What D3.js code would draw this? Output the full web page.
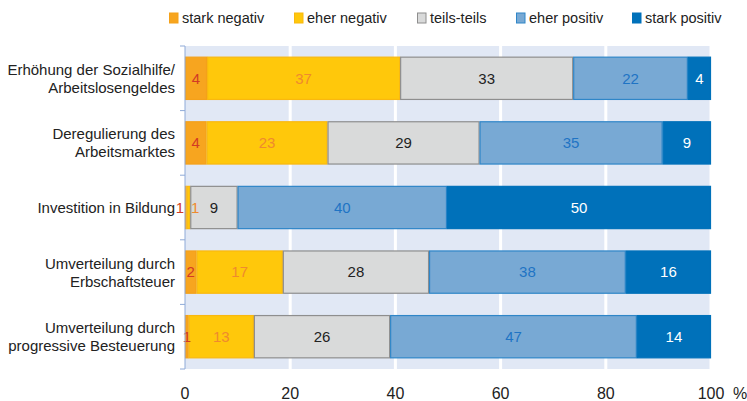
<!DOCTYPE html>
<html>
<head>
<meta charset="utf-8">
<script src="https://cdn.jsdelivr.net/npm/d3@7"></script>
<style>
  body { margin: 0; background: #fff; }
  svg { font-family: "Liberation Sans", Arial, sans-serif; }
</style>
</head>
<body>
<svg width="747" height="401"></svg>
<script>
// Categories (two-line labels) and series.
const categories = [
    ["Erhöhung der Sozialhilfe/", "Arbeitslosengeldes"],
    ["Deregulierung des", "Arbeitsmarktes"],
    ["Investition in Bildung"],
    ["Umverteilung durch", "Erbschaftsteuer"],
    ["Umverteilung durch", "progressive Besteuerung"]
];
const seriesNames = ["stark negativ", "eher negativ", "teils-teils", "eher positiv", "stark positiv"];
// bar lengths (unrounded shares, estimated from the bars)
const starkNegativ = [4.2, 4.1, 0.3, 2.2, 0.7];
const eherNegativ = [36.7, 23.0, 0.7, 16.4, 12.4];
const teilsTeils = [32.9, 28.9, 9.0, 27.8, 25.9];
const eherPositiv = [21.8, 34.8, 39.8, 37.4, 46.9];
const starkPositiv = [4.4, 9.2, 50.2, 16.2, 14.1];
// printed labels
const starkNegativLabels = [4, 4, 1, 2, 1];
const eherNegativLabels = [37, 23, 1, 17, 13];
const teilsTeilsLabels = [33, 29, 9, 28, 26];
const eherPositivLabels = [22, 35, 40, 38, 47];
const starkPositivLabels = [4, 9, 50, 16, 14];
const xTicks = [0, 20, 40, 60, 80, 100];

const fills = ["#f7a51f", "#ffc80b", "#d9dada", "#78a9d4", "#0071ba"];
const strokes = ["#f4a11a", "#f9b80f", "#8e8e8e", "#2f86c8", "#0071ba"];
const textColors = ["#d23a25", "#ef8a2e", "#222222", "#1f74c4", "#ffffff"];

const svg = d3.select("svg");
const seriesValues = [starkNegativ, eherNegativ, teilsTeils, eherPositiv, starkPositiv];
const seriesLabels = [starkNegativLabels, eherNegativLabels, teilsTeilsLabels, eherPositivLabels, starkPositivLabels];

const rows = categories.map((c, i) => {
    let cum = 0;
    return {
        label: c,
        segs: seriesValues.map((s, k) => {
            const seg = { k, v: s[i], label: seriesLabels[k][i], x0: cum, x1: cum + s[i] };
            cum += s[i];
            return seg;
        })
    };
});

const x = d3.scaleLinear().domain([0, 100]).range([185, 711]);
const y = d3.scaleBand().domain(d3.range(categories.length)).range([46, 369])
    .paddingInner(0.33).paddingOuter(0.165);

// Background bands between white gridlines.
svg.append("g").selectAll("rect")
    .data(d3.pairs(xTicks))
    .join("rect")
    .attr("x", d => x(d[0]) + (d[0] === 0 ? 0 : 1.5))
    .attr("width", d => x(d[1]) - x(d[0]) - (d[0] === 0 ? 1.5 : 3) + (d[1] === 100 ? 0 : 0))
    .attr("y", 46)
    .attr("height", 323)
    .attr("fill", "#e1e8f5");

// Bars.
const rowG = svg.append("g").selectAll("g")
    .data(rows)
    .join("g")
    .attr("transform", (d, i) => `translate(0,${y(i)})`);

rowG.selectAll("rect")
    .data(d => d.segs)
    .join("rect")
    .attr("x", d => x(d.x0) + 0.5)
    .attr("width", d => Math.max(0.5, x(d.x1) - x(d.x0) - 1))
    .attr("y", 0.5)
    .attr("height", y.bandwidth() - 1)
    .attr("fill", d => fills[d.k])
    .attr("stroke", d => strokes[d.k])
    .attr("stroke-width", 1.2);

// Label x: centred, but two tiny neighbouring segments push their labels apart.
function labelX(d, segs) {
    const w = s => x(s.x1) - x(s.x0);
    const cx = (x(d.x0) + x(d.x1)) / 2;
    if (d.k === 0 && w(d) < 8 && w(segs[1]) < 8) return x(d.x0) - 5;
    if (d.k === 1 && w(d) < 8 && w(segs[0]) < 8) return x(d.x1) + 5;
    return cx;
}

rowG.each(function (row) {
    d3.select(this).selectAll("text")
        .data(row.segs)
        .join("text")
        .attr("x", d => labelX(d, row.segs))
        .attr("y", y.bandwidth() / 2)
        .attr("dy", "0.36em")
        .attr("text-anchor", "middle")
        .attr("font-size", 15)
        .attr("fill", d => textColors[d.k])
        .text(d => d.label);
});

// Y axis line and ticks at row boundaries.
const yAxis = svg.append("g").attr("stroke", "#8faad8").attr("stroke-width", 1);
yAxis.append("line").attr("x1", 185).attr("x2", 185).attr("y1", 46).attr("y2", 369);
yAxis.selectAll("line.tick")
    .data(d3.range(categories.length + 1))
    .join("line")
    .attr("class", "tick")
    .attr("x1", 180).attr("x2", 185)
    .attr("y1", i => 46 + i * y.step())
    .attr("y2", i => 46 + i * y.step());

// Category labels.
svg.append("g").selectAll("text")
    .data(rows)
    .join("text")
    .attr("text-anchor", "end")
    .attr("font-size", 15)
    .attr("fill", "#222")
    .each(function (d, i) {
        const cy = y(i) + y.bandwidth() / 2;
        const n = d.label.length;
        d3.select(this).selectAll("tspan")
            .data(d.label)
            .join("tspan")
            .attr("x", 175)
            .attr("y", (t, j) => cy + (j - (n - 1) / 2) * 18)
            .attr("dy", "0.36em")
            .text(t => t);
    });

// X tick labels.
svg.append("g").selectAll("text")
    .data(xTicks)
    .join("text")
    .attr("x", d => x(d))
    .attr("y", 393)
    .attr("dy", "0.36em")
    .attr("text-anchor", "middle")
    .attr("font-size", 16)
    .attr("fill", "#222")
    .text(d => d);
svg.append("text")
    .attr("x", 733).attr("y", 393).attr("dy", "0.36em")
    .attr("font-size", 16).attr("fill", "#222")
    .text("%");

// Legend.
const legendX = [169, 294, 417, 516, 632];
const legend = svg.append("g").selectAll("g")
    .data(seriesNames)
    .join("g")
    .attr("transform", (d, i) => `translate(${legendX[i]},18)`);
legend.append("rect")
    .attr("x", 0.5).attr("y", -5)
    .attr("width", 8.5).attr("height", 10)
    .attr("fill", (d, i) => fills[i])
    .attr("stroke", (d, i) => strokes[i]);
legend.append("text")
    .attr("x", 13).attr("dy", "0.36em")
    .attr("font-size", 14.5).attr("fill", "#222")
    .text(d => d);
</script>
</body>
</html>
